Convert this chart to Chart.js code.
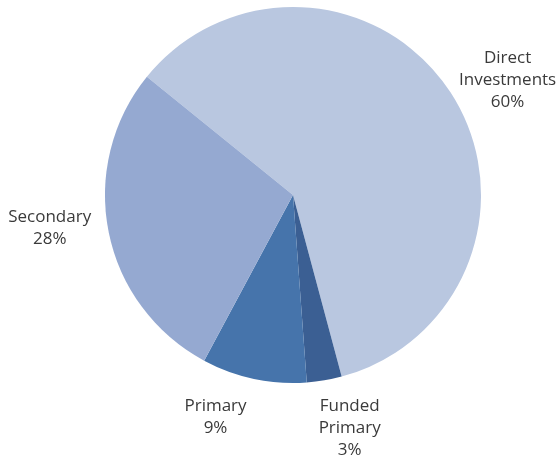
<!DOCTYPE html>
<html>
<head>
<meta charset="utf-8">
<script src="https://cdn.jsdelivr.net/npm/chart.js@4.4.1/dist/chart.umd.min.js"></script>
<style>
  html, body { margin: 0; padding: 0; background: #fff; }
  #wrap { width: 559px; height: 463px; }
</style>
</head>
<body>
<div id="wrap"><canvas id="pie" width="559" height="463"></canvas></div>
<script>
// slice data, clockwise from the upper-left edge
const labels = [["Direct", "Investments"], ["Funded", "Primary"], ["Primary"], ["Secondary"]];
const values = [60, 3, 9, 28];
const colors = ["#B9C7E0", "#3B5F93", "#4674AB", "#95A9D1"];

// label nudges relative to the radial anchor (Excel "best fit" placement)
const labelNudge = [[15, 15], [17, -2], [-28, -11], [-10, -14]];

const sliceLabels = {
  id: "sliceLabels",
  afterDatasetsDraw(chart) {
    const { ctx } = chart;
    const meta = chart.getDatasetMeta(0);
    const total = values.reduce((a, b) => a + b, 0);
    ctx.save();
    ctx.font = "17px 'Open Sans', sans-serif";
    ctx.fillStyle = "#3a3a3a";
    ctx.textAlign = "center";
    ctx.textBaseline = "middle";
    const lh = 22;
    meta.data.forEach((arc, i) => {
      const p = arc.getProps(["x", "y", "startAngle", "endAngle", "outerRadius"], true);
      const mid = (p.startAngle + p.endAngle) / 2;
      const d = p.outerRadius + 50;
      const cx = p.x + Math.cos(mid) * d + labelNudge[i][0];
      const cy = p.y + Math.sin(mid) * d + labelNudge[i][1];
      const lines = labels[i].concat([Math.round(values[i] / total * 100) + "%"]);
      const top = cy - (lines.length - 1) * lh / 2;
      lines.forEach((t, k) => ctx.fillText(t, cx, top + k * lh));
    });
    ctx.restore();
  },
};

new Chart(document.getElementById("pie"), {
  type: "pie",
  plugins: [sliceLabels],
  data: {
    labels: labels.map((l) => l.join(" ")),
    datasets: [{
      data: values,
      backgroundColor: colors,
      borderWidth: 0,
    }],
  },
  options: {
    responsive: false,
    animation: false,
    devicePixelRatio: 1,
    rotation: -51,
    layout: { padding: { left: 105, right: 78, top: 7, bottom: 80 } },
    plugins: {
      legend: { display: false },
      tooltip: { enabled: false },
    },
  },
});
</script>
</body>
</html>
